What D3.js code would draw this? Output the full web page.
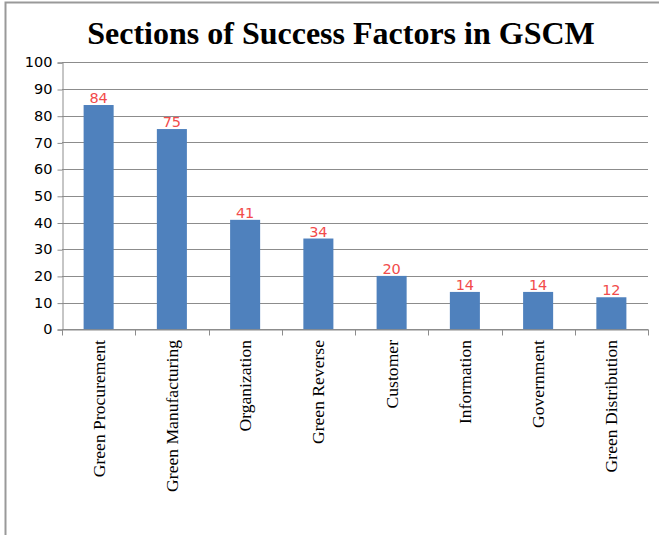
<!DOCTYPE html>
<html><head><meta charset="utf-8">
<script src="https://cdn.jsdelivr.net/npm/d3@7"></script>
<style>body{margin:0;background:#fff}svg{display:block}</style>
</head><body>
<script>
const categories = ["Green Procurement","Green Manufacturing","Organization","Green Reverse","Customer","Information","Government","Green Distribution"];
const values = [84,75,41,34,20,14,14,12];
const yTicks = [0,10,20,30,40,50,60,70,80,90,100];

const W=659,H=535;
const svg=d3.select("body").append("svg").attr("width",W).attr("height",H);
// frame
svg.append("path").attr("d","M5.5,535 V2.5 H659").attr("fill","none").attr("stroke","#999").attr("stroke-width",2);

const m={l:62,r:648,t:62.3,b:329.3};
const x=d3.scaleBand().domain(categories).range([m.l,m.r]).padding(0);
const y=d3.scaleLinear().domain([0,100]).range([m.b,m.t]);

// gridlines
svg.append("g").selectAll("line").data(yTicks).join("line")
 .attr("x1",m.l).attr("x2",m.r).attr("y1",d=>Math.round(y(d))+0.5).attr("y2",d=>Math.round(y(d))+0.5)
 .attr("stroke","#8c8c8c").attr("stroke-width",1);

// y axis
const ya=svg.append("g").attr("transform",`translate(${m.l+0.5},0)`)
 .call(d3.axisLeft(y).tickValues(yTicks).tickSize(5).tickPadding(5));
ya.select(".domain").attr("stroke","#8c8c8c");
ya.selectAll(".tick line").attr("stroke","#8c8c8c").attr("transform","translate(0,0.5)");
ya.selectAll(".tick text").attr("font-family","DejaVu Sans").attr("font-size",14.5).attr("fill","#000");

// bars
const bw=x.bandwidth()*0.41;
svg.append("g").selectAll("rect").data(values).join("rect")
 .attr("x",(d,i)=>x(categories[i])+x.bandwidth()/2-bw/2)
 .attr("width",bw)
 .attr("y",d=>y(d)).attr("height",d=>m.b-y(d))
 .attr("fill","#4f81bd");

// labels
svg.append("g").selectAll("text").data(values).join("text")
 .attr("x",(d,i)=>x(categories[i])+x.bandwidth()/2)
 .attr("y",d=>y(d)-2)
 .attr("text-anchor","middle").attr("font-family","DejaVu Sans").attr("font-size",14.5)
 .attr("fill","#f24b4b").text(d=>d);

// x axis
const xa=svg.append("g").attr("transform",`translate(0,${Math.round(m.b)+0.5})`)
 .call(d3.axisBottom(x).tickSize(0).tickFormat(""));
xa.select(".domain").attr("stroke","#8c8c8c");
xa.selectAll(".tick").remove();
const bounds=categories.map(c=>x(c)).concat([m.r]);
xa.selectAll("line.tk").data(bounds).join("line").attr("class","tk")
 .attr("x1",d=>Math.round(d)+0.5).attr("x2",d=>Math.round(d)+0.5).attr("y1",0).attr("y2",6)
 .attr("stroke","#8c8c8c");

svg.append("g").selectAll("text").data(categories).join("text")
 .attr("transform",d=>`translate(${x(d)+x.bandwidth()/2+6},340) rotate(-90)`)
 .attr("text-anchor","end").attr("font-family","Liberation Serif").attr("font-size",17.6)
 .attr("fill","#000").text(d=>d);

// title
svg.append("text").attr("x",341).attr("y",44).attr("text-anchor","middle")
 .attr("font-family","Liberation Serif").attr("font-weight","bold").attr("font-size",32)
 .text("Sections of Success Factors in GSCM");
</script>
</body></html>
